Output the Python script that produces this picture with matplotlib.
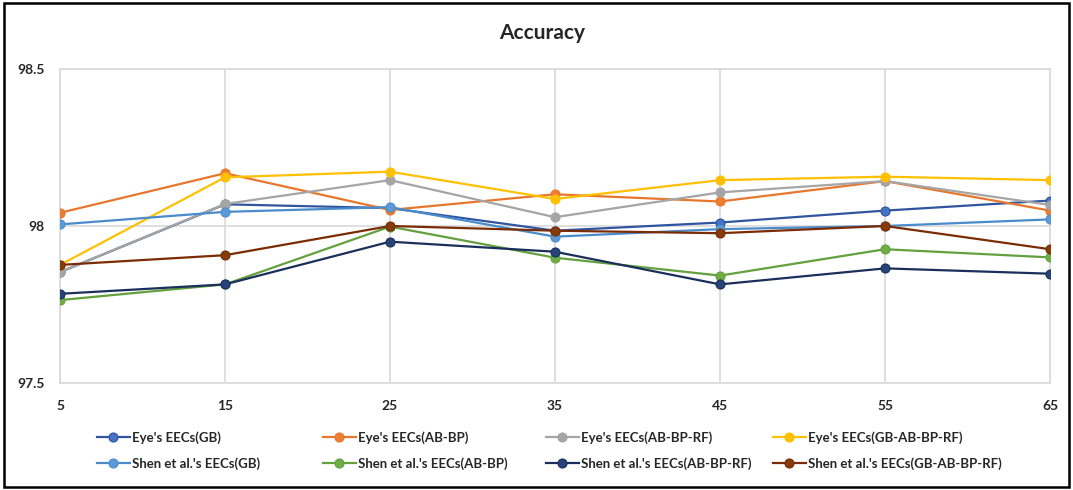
import matplotlib.pyplot as plt
from matplotlib.lines import Line2D
from matplotlib.patches import Rectangle

plt.rcParams["font.family"] = ["Lato", "DejaVu Sans"]
plt.rcParams["font.weight"] = "bold"

# data
x = [5, 15, 25, 35, 45, 55, 65]
eye_gb = [97.853, 98.069, 98.057, 97.985, 98.011, 98.049, 98.081]
eye_abbp = [98.042, 98.168, 98.051, 98.101, 98.078, 98.143, 98.049]
eye_abbprf = [97.853, 98.070, 98.146, 98.028, 98.107, 98.143, 98.067]
eye_gbabbprf = [97.876, 98.155, 98.173, 98.086, 98.146, 98.157, 98.146]
shen_gb = [98.005, 98.045, 98.060, 97.966, 97.990, 98.000, 98.021]
shen_abbp = [97.764, 97.814, 97.998, 97.899, 97.842, 97.926, 97.900]
shen_abbprf = [97.784, 97.814, 97.950, 97.918, 97.814, 97.865, 97.848]
shen_gbabbprf = [97.876, 97.907, 98.000, 97.985, 97.977, 98.000, 97.926]

series = [
    ("Eye's EECs(GB)", eye_gb, "#2F55A0", "#4472C4"),
    ("Eye's EECs(AB-BP)", eye_abbp, "#E8772E", "#ED7D31"),
    ("Eye's EECs(AB-BP-RF)", eye_abbprf, "#A5A5A5", "#A5A5A5"),
    ("Eye's EECs(GB-AB-BP-RF)", eye_gbabbprf, "#FFC000", "#FFC000"),
    ("Shen et al.'s EECs(GB)", shen_gb, "#4A8CCB", "#5B9BD5"),
    ("Shen et al.'s EECs(AB-BP)", shen_abbp, "#63A03E", "#70AD47"),
    ("Shen et al.'s EECs(AB-BP-RF)", shen_abbprf, "#1B2F5C", "#264478"),
    ("Shen et al.'s EECs(GB-AB-BP-RF)", shen_gbabbprf, "#7B2C05", "#843C0C"),
]

fig = plt.figure(figsize=(10.73, 4.90), dpi=100)
ax = fig.add_axes([0.0559, 0.2184, 0.9227, 0.6408])

handles = []
for name, vals, lc, mc in series:
    h, = ax.plot(x, vals, color=lc, lw=1.6, marker="o", ms=6.5,
                 mfc=mc, mec=lc, mew=0.8, label=name, zorder=3)
    handles.append(h)

ax.set_xlim(5, 65)
ax.set_ylim(97.5, 98.5)
ax.set_xticks(x)
ax.set_yticks([97.5, 98, 98.5])
ax.set_yticklabels(["97.5", "98", "98.5"])
ax.tick_params(length=0, labelsize=10, colors="#262626")
ax.tick_params(axis="y", pad=11)
ax.tick_params(axis="x", pad=12)
ax.grid(True, color="#D9D9D9", lw=1.2)
for s in ax.spines.values():
    s.set_color("#D9D9D9")
    s.set_linewidth(1.2)

fig.text(0.505, 0.932, "Accuracy", ha="center", va="center",
         fontsize=15, fontweight="bold", color="#262626")

# legend: one column per method, Eye's on top, Shen below
col_x = [97, 323, 546, 773]
for i, cx in enumerate(col_x):
    pair = [handles[i], handles[i + 4]]
    leg = fig.legend(pair, [h.get_label() for h in pair],
                     loc="upper left",
                     bbox_to_anchor=(cx / 1073, 1 - 431 / 490),
                     frameon=False, fontsize=9.5, handlelength=2.5,
                     handletextpad=0.15, labelspacing=1.05,
                     borderpad=0, borderaxespad=0)
    for t in leg.get_texts():
        t.set_color("#262626")
        t.set_fontweight("bold")

# outer frame
fig.patches.append(Rectangle((4 / 1073, 3 / 490), 1065 / 1073, 484 / 490,
                             transform=fig.transFigure, fill=False,
                             ec="black", lw=1.8))

fig.savefig("out.png", dpi=100)
